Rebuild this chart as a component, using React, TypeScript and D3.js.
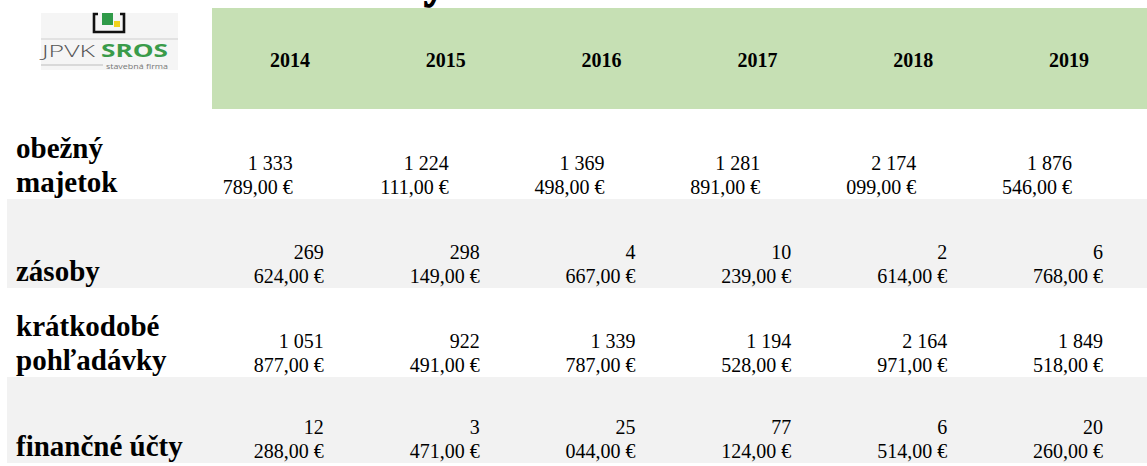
import React from "react";
import * as d3 from "d3";

const years = ["2014", "2015", "2016", "2017", "2018", "2019"];
const rowLabels = [["obežný", "majetok"], ["zásoby"], ["krátkodobé", "pohľadávky"], ["finančné účty"]];
const obeznyMajetok = [1333789, 1224111, 1369498, 1281891, 2174099, 1876546];
const zasoby = [269624, 298149, 4667, 10239, 2614, 6768];
const kratkodobePohladavky = [1051877, 922491, 1339787, 1194528, 2164971, 1849518];
const financneUcty = [12288, 3471, 25044, 77124, 6514, 20260];
const rowValues = [obeznyMajetok, zasoby, kratkodobePohladavky, financneUcty];

const W = 1147;
const H = 466;
const SERIF = "'Liberation Serif', 'Times New Roman', serif";
const SANS = "'Open Sans', 'Noto Sans', sans-serif";

const locale = d3.formatLocale({ decimal: ",", thousands: " ", grouping: [3], currency: ["", " €"] });
const fmt = locale.format("$,.2f");

function splitValue(v: number): [string, string] {
  const s = fmt(v);
  const comma = s.indexOf(",");
  const sp = s.lastIndexOf(" ", comma);
  if (sp < 0) return ["", s];
  return [s.slice(0, sp), s.slice(sp + 1)];
}

export default function App() {
  const x = d3.scaleBand<string>().domain(years).range([212, W]);
  const rowIdx = rowLabels.map((_, i) => String(i));
  const y = d3.scaleBand<string>().domain(rowIdx).range([110, 466]);
  const tableBottom = 463;
  const headerTop = 8;
  const headerBottom = 109;

  return (
    <svg width={W} height={H} style={{ position: "absolute", left: 0, top: 0, background: "#fff" }}>
      {/* cut-off title (only the descender is visible) */}
      <text x={424} y={-2} fontFamily={SERIF} fontWeight="bold" fontSize={42} fill="#000"
        stroke="#000" strokeWidth={1.5}>y</text>

      {/* header band */}
      <rect x={x(years[0])} y={headerTop} width={W - (x(years[0]) as number)} height={headerBottom - headerTop} fill="#C6E0B4" />
      {years.map((yr) => (
        <text key={yr} x={(x(yr) as number) + x.bandwidth() / 2} y={67} textAnchor="middle"
          fontFamily={SERIF} fontWeight="bold" fontSize={20} fill="#000">{yr}</text>
      ))}

      {/* logo */}
      <g>
        <rect x={41} y={13} width={137} height={57} fill="#f5f5f5" />
        <path d="M98,14 H94 V32 H124 V14 H120" fill="none" stroke="#111" strokeWidth={2.6} />
        <rect x={102} y={13} width={11} height={12} fill="#2f9a48" />
        <rect x={114} y={21} width={6} height={6} fill="#f2d21b" />
        <line x1={41} x2={178} y1={39} y2={39} stroke="#cfcfcf" strokeWidth={1} />
        <text x={42} y={57} fontFamily={SANS} fontWeight={300} fontSize={17} fill="#555"
          textLength={53} lengthAdjust="spacingAndGlyphs">JPVK</text>
        <text x={101} y={57} fontFamily={SANS} fontWeight="bold" fontSize={17} fill="#3a9b4a"
          textLength={67} lengthAdjust="spacingAndGlyphs">SROS</text>
        <line x1={41} x2={103} y1={65} y2={65} stroke="#bdbdbd" strokeWidth={1} />
        <text x={106} y={68.5} fontFamily={SANS} fontSize={6.5} fill="#777"
          textLength={62} lengthAdjust="spacingAndGlyphs">stavebná firma</text>
      </g>

      {/* rows */}
      {rowLabels.map((lbl, i) => {
        const top = y(String(i)) as number;
        const bottom = Math.min(top + y.bandwidth(), tableBottom);
        const gray = i % 2 === 1;
        const labelBase = bottom - 7;
        const valueBase = bottom - 5;
        const rightOffset = i === 0 ? 75 : 44;
        return (
          <g key={i}>
            {gray && <rect x={7} y={top} width={W - 7} height={bottom - top} fill="#F2F2F2" />}
            {lbl.map((ln, j) => (
              <text key={j} x={16} y={labelBase - (lbl.length - 1 - j) * 34}
                fontFamily={SERIF} fontWeight="bold" fontSize={29} fill="#000">{ln}</text>
            ))}
            {rowValues[i].map((v, k) => {
              const [l1, l2] = splitValue(v);
              const xr = (x(years[k]) as number) + x.bandwidth() - rightOffset;
              return (
                <g key={k}>
                  <text x={xr} y={valueBase - 24} textAnchor="end" fontFamily={SERIF} fontSize={20} fill="#000">{l1}</text>
                  <text x={xr} y={valueBase} textAnchor="end" fontFamily={SERIF} fontSize={20} fill="#000">{l2}</text>
                </g>
              );
            })}
          </g>
        );
      })}
    </svg>
  );
}
